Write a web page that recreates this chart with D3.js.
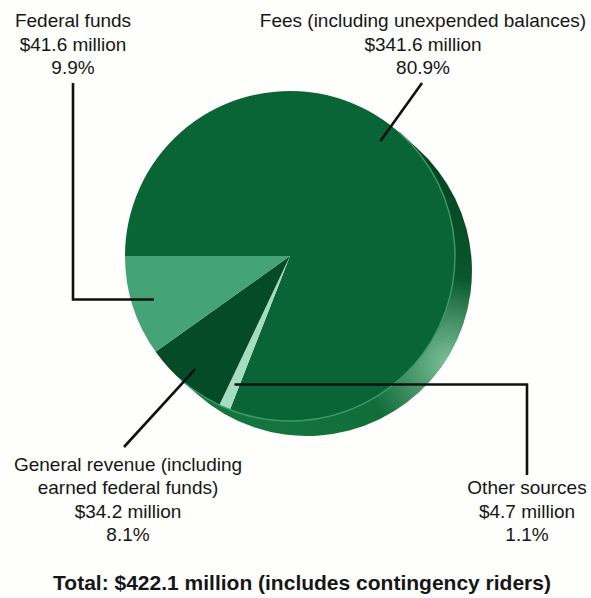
<!DOCTYPE html>
<html>
<head>
<meta charset="utf-8">
<script src="https://cdn.jsdelivr.net/npm/d3@7"></script>
<style>
  html, body { margin: 0; padding: 0; background: #fefefd; }
  svg { display: block; }
  text { font-family: "Liberation Sans", Arial, sans-serif; fill: #161616; }
</style>
</head>
<body>
<svg id="chart" width="591" height="598"></svg>
<script>
// Revenue sources (millions of dollars), listed clockwise from 9 o'clock
const categories = ["Fees", "Other sources", "General revenue", "Federal funds"];
const values = [341.6, 4.7, 34.2, 41.6];
const labelLines = [
  ["Fees (including unexpended balances)"],
  ["Other sources"],
  ["General revenue (including", "earned federal funds)"],
  ["Federal funds"]
];
const sliceColors = ["#0a6536", "#a6dcc0", "#064b27", "#44a476"];

const W = 591, H = 598;
const cx = 290, cy = 256, R = 165;
const depth = { dx: 17, dy: 15 };

// Where each callout leaves its slice and how it runs to its text
const callouts = [
  { frac: 0.44, r: 146, path: [[422, 83]], tx: 423, ty: 27 },
  { frac: 0.5, r: 140, path: [[527, null], [527, 475]], tx: 527, ty: 494 },
  { frac: 0.5, r: 148, path: [[124, 447]], tx: 128, ty: 470.5 },
  { frac: 0.5, r: 143, path: [[73, null], [73, 83]], tx: 73, ty: 27 }
];
const lineStep = 23.5;

const svg = d3.select("#chart");
const defs = svg.append("defs");

const sheen = defs.append("radialGradient")
  .attr("id", "sheen")
  .attr("gradientUnits", "userSpaceOnUse")
  .attr("cx", 448).attr("cy", 362).attr("r", 85);
sheen.append("stop").attr("offset", 0).attr("stop-color", "#8fd0aa").attr("stop-opacity", 0.85);
sheen.append("stop").attr("offset", 1).attr("stop-color", "#8fd0aa").attr("stop-opacity", 0);

const sideShade = defs.append("linearGradient")
  .attr("id", "sideShade")
  .attr("gradientUnits", "userSpaceOnUse")
  .attr("x1", cx + 120).attr("y1", cy - 140)
  .attr("x2", cx - 40).attr("y2", cy + 180);
sideShade.append("stop").attr("offset", 0).attr("stop-color", "#03401f");
sideShade.append("stop").attr("offset", 0.45).attr("stop-color", "#0a5e31");
sideShade.append("stop").attr("offset", 1).attr("stop-color", "#15763f");

// Side wall of the disc: band between the face and the same circle pushed back
const len = Math.hypot(depth.dx, depth.dy);
const ux = depth.dx / len, uy = depth.dy / len;
const px = uy, py = -ux;
const P1 = [cx + R * px, cy + R * py];
const P2 = [P1[0] + depth.dx, P1[1] + depth.dy];
const P4 = [cx - R * px, cy - R * py];
const P3 = [P4[0] + depth.dx, P4[1] + depth.dy];
const sidePath = `M${P1}L${P2}A${R},${R} 0 0 1 ${P3}L${P4}A${R},${R} 0 0 0 ${P1}Z`;

svg.append("path").attr("d", sidePath).attr("fill", "url(#sideShade)");
svg.append("path").attr("d", sidePath).attr("fill", "url(#sheen)");

// Face of the pie
const pie = d3.pie().sort(null)
  .startAngle(3 * Math.PI / 2)
  .endAngle(3 * Math.PI / 2 + 2 * Math.PI);
const arcs = pie(values);
const arc = d3.arc().innerRadius(0).outerRadius(R);

const face = svg.append("g").attr("transform", `translate(${cx},${cy})`);
face.selectAll("path.slice")
  .data(arcs)
  .join("path")
  .attr("class", "slice")
  .attr("d", arc)
  .attr("fill", (d, i) => sliceColors[i]);

// Light rim where the face meets the wall
svg.append("path")
  .attr("d", `M${P1}A${R},${R} 0 0 1 ${P4}`)
  .attr("fill", "none")
  .attr("stroke", "#3d9a68")
  .attr("stroke-width", 1.4);

// Callout lines
const total = d3.sum(values);
const pct = d3.format(".1%");
const callG = svg.append("g");
arcs.forEach((a, i) => {
  const c = callouts[i];
  const ang = a.startAngle + c.frac * (a.endAngle - a.startAngle);
  const start = [cx + c.r * Math.sin(ang), cy - c.r * Math.cos(ang)];
  const pts = [start];
  c.path.forEach(p => {
    const prev = pts[pts.length - 1];
    pts.push([p[0], p[1] === null ? prev[1] : p[1]]);
  });
  callG.append("path")
    .attr("d", d3.line()(pts))
    .attr("fill", "none")
    .attr("stroke", "#111")
    .attr("stroke-width", 2.6);

  const lines = labelLines[i].concat([
    "$" + values[i].toFixed(1) + " million",
    pct(values[i] / total)
  ]);
  const t = callG.append("text")
    .attr("text-anchor", "middle")
    .attr("font-size", 19);
  lines.forEach((s, k) => {
    t.append("tspan")
      .attr("x", c.tx)
      .attr("y", c.ty + k * lineStep)
      .text(s);
  });
});

svg.append("text")
  .attr("x", 302)
  .attr("y", 590)
  .attr("text-anchor", "middle")
  .attr("font-size", 21)
  .attr("font-weight", "bold")
  .text(`Total: $${total.toFixed(1)} million (includes contingency riders)`);
</script>
</body>
</html>
